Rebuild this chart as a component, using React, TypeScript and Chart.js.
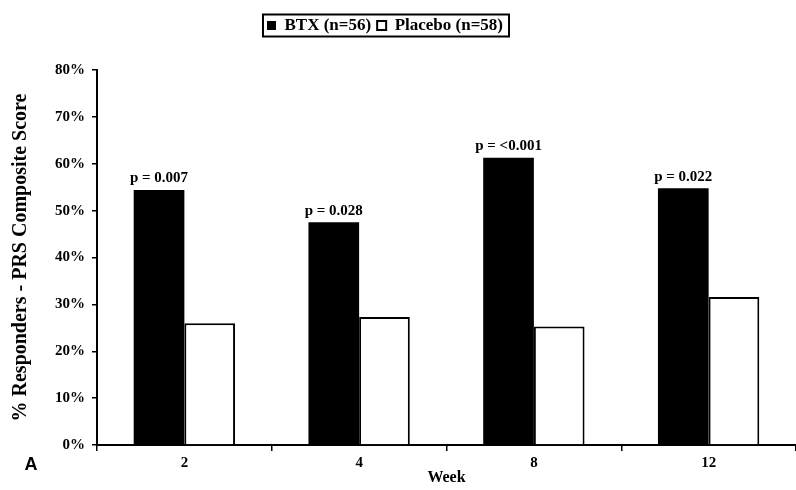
import React, { useEffect, useRef } from "react";
import { Chart, registerables } from "chart.js";

Chart.register(...registerables);

const weeks = ["2", "4", "8", "12"];
const btxValues = [54.4, 47.5, 61.3, 54.8];
const placeboValues = [26.0, 27.3, 25.3, 31.6];
const pLabels = ["p = 0.007", "p = 0.028", "p = <0.001", "p = 0.022"];
const yTicks = [0, 10, 20, 30, 40, 50, 60, 70, 80];

const SERIF = "'Liberation Serif', 'Times New Roman', serif";

export default function App() {
  const ref = useRef<HTMLCanvasElement | null>(null);

  useEffect(() => {
    document.body.style.margin = "0";
    const canvas = ref.current;
    if (!canvas) return;

    const overlay = {
      id: "overlay",
      afterLayout(chart: any) {
        const lg = chart.legend;
        if (lg) {
          lg.left -= 13;
          lg.right -= 13;
        }
      },
      afterDatasetsDraw(chart: any) {
        const ctx = chart.ctx;
        const meta = chart.getDatasetMeta(0);
        ctx.save();
        ctx.fillStyle = "#000";
        ctx.font = `bold 15px ${SERIF}`;
        ctx.textAlign = "center";
        ctx.textBaseline = "bottom";
        meta.data.forEach((el: any, i: number) => {
          ctx.fillText(pLabels[i], el.x, el.y - 4);
        });
        ctx.restore();
      },
      afterDraw(chart: any) {
        const ctx = chart.ctx;
        const lg = chart.legend;
        ctx.save();
        if (lg && lg.legendHitBoxes && lg.legendHitBoxes.length) {
          const boxes = lg.legendHitBoxes;
          let minX = Infinity, maxX = -Infinity;
          boxes.forEach((b: any) => {
            minX = Math.min(minX, b.left);
            maxX = Math.max(maxX, b.left + b.width);
          });
          const itemH = lg.options.labels.font.size;
          const cy = lg.top + lg.options.labels.padding + itemH / 2;
          ctx.strokeStyle = "#000";
          ctx.lineWidth = 2;
          ctx.strokeRect(minX - 4, cy - 11, maxX - minX + 10, 22);
        }
        const area = chart.chartArea;
        ctx.fillStyle = "#000";
        ctx.font = "bold 18px 'Liberation Sans', Arial, sans-serif";
        ctx.textAlign = "center";
        ctx.textBaseline = "middle";
        ctx.fillText("A", 31, area.bottom + 20);
        ctx.restore();
      },
    };

    const chart = new Chart(canvas, {
      type: "bar",
      data: {
        labels: weeks,
        datasets: [
          {
            label: "BTX (n=56)",
            data: btxValues,
            backgroundColor: "#000",
            borderColor: "#000",
            borderWidth: 0,
            categoryPercentage: 0.58,
            barPercentage: 1.0,
          },
          {
            label: "Placebo (n=58)",
            data: placeboValues,
            backgroundColor: "#fff",
            borderColor: "#000",
            borderWidth: 2,
            categoryPercentage: 0.58,
            barPercentage: 1.0,
          },
        ],
      },
      options: {
        responsive: false,
        animation: false,
        layout: { padding: { top: 11, left: 0, right: 0, bottom: 0 } },
        plugins: {
          tooltip: { enabled: false },
          legend: {
            display: true,
            position: "top",
            labels: {
              boxWidth: 9,
              boxHeight: 9,
              padding: 6,
              color: "#000",
              font: { family: SERIF, size: 17, weight: "bold" },
            },
          },
          subtitle: {
            display: true,
            text: " ",
            position: "top",
            weight: 500,
            padding: { top: 14, bottom: 0 },
            font: { size: 10 },
          },
          title: { display: false },
        },
        scales: {
          x: {
            afterFit(scale: any) {
              scale.height = 45;
            },
            grid: {
              display: true,
              drawOnChartArea: false,
              drawTicks: true,
              tickLength: 6,
              color: "#000",
              lineWidth: 1.5,
              offset: true,
            },
            border: { display: true, color: "#000", width: 2 },
            ticks: {
              color: "#000",
              padding: 3,
              font: { family: SERIF, size: 15, weight: "bold" },
            },
            title: {
              display: true,
              text: "Week",
              color: "#000",
              padding: { top: 0, bottom: 3 },
              font: { family: SERIF, size: 16, weight: "bold" },
            },
          },
          y: {
            min: 0,
            max: 80,
            afterFit(scale: any) {
              scale.width = 97;
            },
            afterBuildTicks(scale: any) {
              scale.ticks = yTicks.map((v) => ({ value: v }));
            },
            grid: {
              display: true,
              drawOnChartArea: false,
              drawTicks: true,
              tickLength: 5,
              color: "#000",
              lineWidth: 1.5,
            },
            border: { display: true, color: "#000", width: 2 },
            ticks: {
              color: "#000",
              padding: 7,
              stepSize: 10,
              callback: (v: any) => `${v}%`,
              font: { family: SERIF, size: 15, weight: "bold" },
            },
            title: {
              display: true,
              text: "% Responders - PRS Composite Score",
              color: "#000",
              padding: { top: 9, bottom: 0 },
              font: { family: SERIF, size: 20, weight: "bold" },
            },
          },
        },
      },
      plugins: [overlay],
    } as any);

    return () => chart.destroy();
  }, []);

  return (
    <div style={{ width: 796, height: 490 }}>
      <canvas ref={ref} width={796} height={490} style={{ width: 796, height: 490, display: "block" }} />
    </div>
  );
}
